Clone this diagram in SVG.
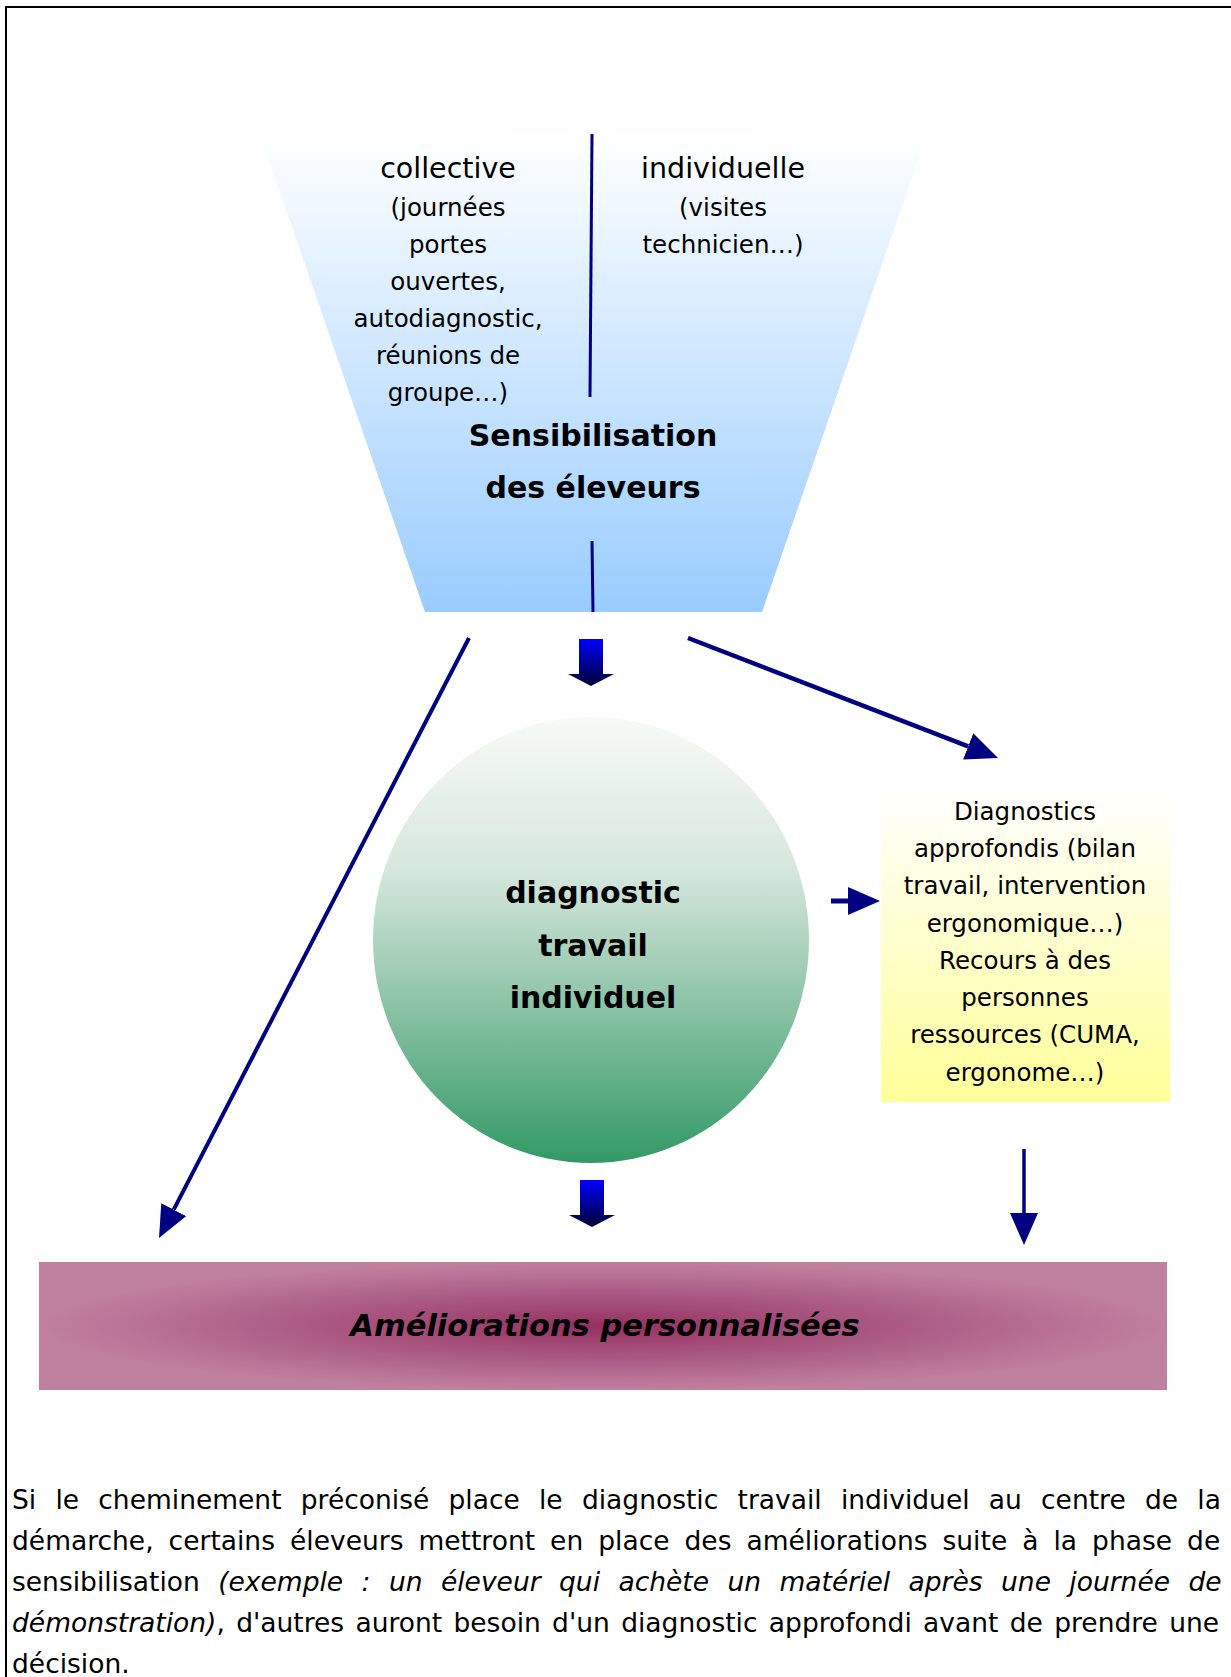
<svg xmlns="http://www.w3.org/2000/svg" width="1231" height="1677" viewBox="0 0 1231 1677">
<style>
  .t { font-family: "DejaVu Sans", "Liberation Sans", sans-serif; fill: #000; }
  .c { text-anchor: middle; }
  .body { font-size: 24.5px; }
  .head { font-size: 28.5px; }
  .bold { font-size: 30px; font-weight: bold; }
  .para { font-size: 26.5px; }
  .it { font-style: italic; }
  .conn { stroke: #000080; fill: none; }
</style>
<defs>
  <linearGradient id="gFunnel" x1="0" y1="0" x2="0" y2="1">
    <stop offset="0" stop-color="#ffffff"/>
    <stop offset="1" stop-color="#99ccff"/>
  </linearGradient>
  <linearGradient id="gCircle" x1="0" y1="0" x2="0" y2="1">
    <stop offset="0" stop-color="#f8faf8"/>
    <stop offset="0.35" stop-color="#d5e6dc"/>
    <stop offset="1" stop-color="#339966"/>
  </linearGradient>
  <linearGradient id="gYellow" x1="0" y1="0" x2="0" y2="1">
    <stop offset="0" stop-color="#ffffff"/>
    <stop offset="1" stop-color="#ffff99"/>
  </linearGradient>
  <radialGradient id="gBanner" cx="0.5" cy="0.5" r="0.5">
    <stop offset="0" stop-color="#953060"/>
    <stop offset="0.45" stop-color="#a8557f"/>
    <stop offset="1" stop-color="#c080a0"/>
  </radialGradient>
  <linearGradient id="gBlock" x1="0" y1="0" x2="0" y2="1">
    <stop offset="0" stop-color="#0000ff"/>
    <stop offset="1" stop-color="#000033"/>
  </linearGradient>
  <path id="blockArrow" d="M-12,0 H12 V35 H23 L0,47 L-23,35 H-12 Z" fill="url(#gBlock)"/>
  <marker id="ah" viewBox="0 0 32 28" refX="0" refY="14" markerWidth="32" markerHeight="28" markerUnits="userSpaceOnUse" orient="auto">
    <path d="M0,0 L32,14 L0,28 Z" fill="#000080"/>
  </marker>
</defs>

<rect x="0" y="0" width="1231" height="1677" fill="#ffffff"/>
<path d="M6,1677 V7 H1231" fill="none" stroke="#000" stroke-width="2"/>

<g id="sensibilisation">
  <polygon points="260,134 927,134 762,612 425,612" fill="url(#gFunnel)"/>
  <line x1="592" y1="134" x2="590" y2="397" stroke="#000080" stroke-width="3"/>
  <line x1="592" y1="541" x2="593" y2="612" stroke="#000080" stroke-width="3"/>
  <text class="t c head" x="448" y="178">collective</text>
  <text class="t c body" x="448" y="216">(journées</text>
  <text class="t c body" x="448" y="253">portes</text>
  <text class="t c body" x="448" y="290">ouvertes,</text>
  <text class="t c body" x="448" y="327">autodiagnostic,</text>
  <text class="t c body" x="448" y="364">réunions de</text>
  <text class="t c body" x="448" y="401">groupe…)</text>
  <text class="t c head" x="723" y="178">individuelle</text>
  <text class="t c body" x="723" y="216">(visites</text>
  <text class="t c body" x="723" y="253">technicien…)</text>
  <text class="t c bold" x="593" y="446">Sensibilisation</text>
  <text class="t c bold" x="593" y="498">des éleveurs</text>
</g>

<g id="diagnostic">
  <ellipse cx="591" cy="940" rx="218" ry="223" fill="url(#gCircle)"/>
  <text class="t c bold" x="593" y="903">diagnostic</text>
  <text class="t c bold" x="593" y="956">travail</text>
  <text class="t c bold" x="593" y="1008">individuel</text>
</g>

<g id="approfondis">
  <rect x="881" y="790" width="289" height="312" fill="url(#gYellow)"/>
  <text class="t c body" x="1025" y="820">Diagnostics</text>
  <text class="t c body" x="1025" y="857">approfondis (bilan</text>
  <text class="t c body" x="1025" y="894">travail, intervention</text>
  <text class="t c body" x="1025" y="932">ergonomique…)</text>
  <text class="t c body" x="1025" y="969">Recours à des</text>
  <text class="t c body" x="1025" y="1006">personnes</text>
  <text class="t c body" x="1025" y="1043">ressources (CUMA,</text>
  <text class="t c body" x="1025" y="1081">ergonome…)</text>
</g>

<g id="ameliorations">
  <rect x="39" y="1262" width="1128" height="128" fill="url(#gBanner)"/>
  <text class="t c bold it" x="605" y="1336" style="font-size:30.5px">Améliorations personnalisées</text>
</g>

<g id="connectors">
  <use href="#blockArrow" transform="translate(591,639)"/>
  <use href="#blockArrow" transform="translate(592,1180)"/>
  <line class="conn" x1="469" y1="638" x2="173.7" y2="1209.6" stroke-width="4" marker-end="url(#ah)"/>
  <line class="conn" x1="688" y1="638" x2="968.2" y2="746.4" stroke-width="4.5" marker-end="url(#ah)"/>
  <line class="conn" x1="831" y1="901" x2="848" y2="901" stroke-width="5" marker-end="url(#ah)"/>
  <line class="conn" x1="1024" y1="1149" x2="1024" y2="1213" stroke-width="3.5" marker-end="url(#ah)"/>
</g>

<g id="paragraph">
  <text class="t para" x="12" y="1509" word-spacing="10.8">Si le cheminement préconisé place le diagnostic travail individuel au centre de la</text>
  <text class="t para" x="12" y="1550" word-spacing="6.6">démarche, certains éleveurs mettront en place des améliorations suite à la phase de</text>
  <text class="t para" x="12" y="1591" word-spacing="10">sensibilisation <tspan class="it">(exemple : un éleveur qui achète un matériel après une journée de</tspan></text>
  <text class="t para" x="12" y="1632" word-spacing="2.9"><tspan class="it">démonstration)</tspan>, d'autres auront besoin d'un diagnostic approfondi avant de prendre une</text>
  <text class="t para" x="12" y="1673">décision.</text>
</g>
</svg>
